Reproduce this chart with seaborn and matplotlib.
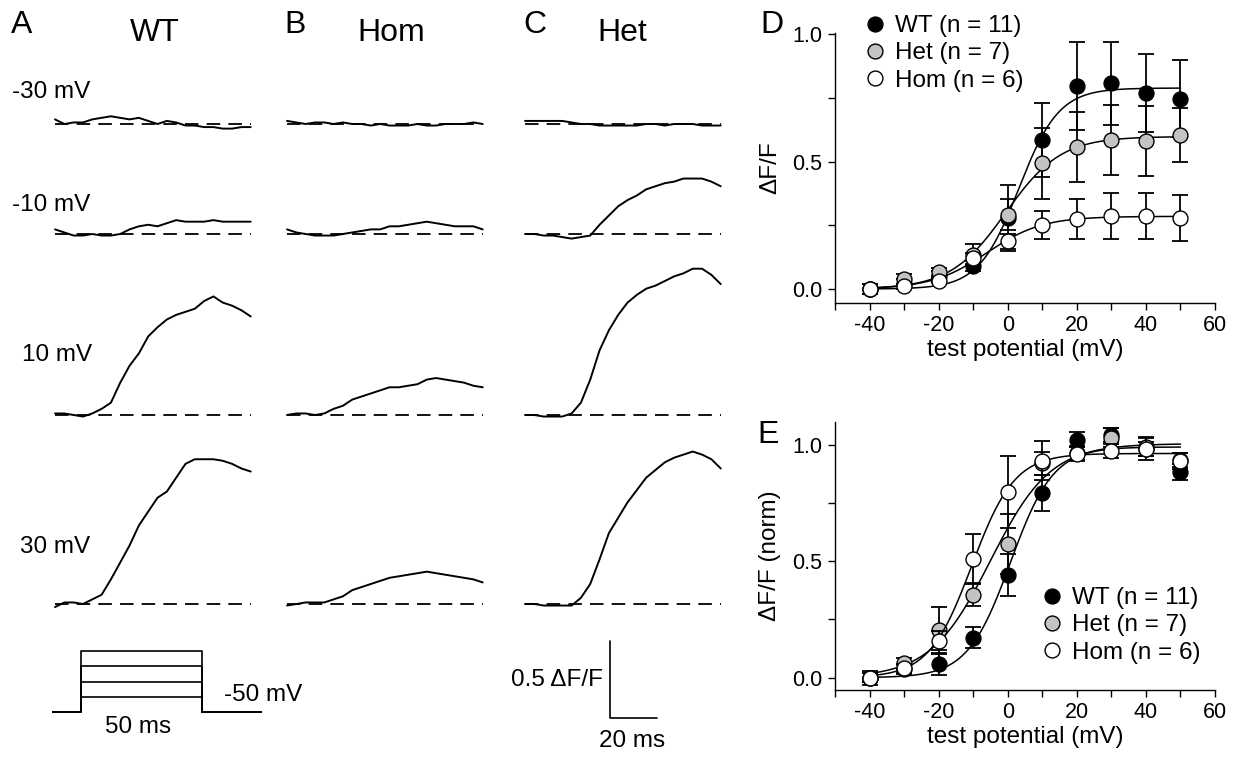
import matplotlib
matplotlib.use('Agg')
import matplotlib.pyplot as plt
from matplotlib.lines import Line2D
from matplotlib.ticker import MultipleLocator, FormatStrFormatter
import seaborn as sns
import numpy as np

# --- traces (dF/F), sampled every 4 ms from pulse-trace onset ---
t_ms = np.arange(0, 85, 4)

wt_m30 = [0.03, 0.0, 0.01, 0.01, 0.03, 0.04, 0.05, 0.04, 0.03, 0.04, 0.02, 0.0, 0.02, 0.01, -0.01, -0.01, -0.02, -0.02, -0.03, -0.03, -0.02, -0.02]
wt_m10 = [0.03, 0.01, -0.01, -0.01, 0.0, -0.01, -0.01, 0.0, 0.03, 0.05, 0.06, 0.05, 0.07, 0.09, 0.08, 0.08, 0.08, 0.09, 0.08, 0.08, 0.08, 0.08]
wt_p10 = [0.01, 0.01, 0.0, -0.01, 0.01, 0.04, 0.08, 0.21, 0.32, 0.40, 0.51, 0.57, 0.62, 0.65, 0.67, 0.69, 0.74, 0.77, 0.73, 0.71, 0.68, 0.64]
wt_p30 = [-0.02, 0.01, 0.01, 0.0, 0.03, 0.06, 0.16, 0.27, 0.38, 0.51, 0.60, 0.69, 0.73, 0.82, 0.91, 0.94, 0.94, 0.94, 0.93, 0.91, 0.88, 0.86]

hom_m30 = [0.02, 0.01, 0.0, 0.01, 0.01, 0.0, 0.01, 0.0, 0.0, -0.01, 0.0, -0.01, -0.01, -0.01, 0.0, -0.01, -0.01, 0.0, 0.0, 0.0, 0.01, 0.0]
hom_m10 = [0.03, 0.01, 0.0, -0.01, -0.01, -0.01, 0.0, 0.01, 0.02, 0.03, 0.03, 0.05, 0.05, 0.06, 0.07, 0.08, 0.07, 0.06, 0.05, 0.05, 0.05, 0.03]
hom_p10 = [0.0, 0.01, 0.01, 0.0, 0.01, 0.04, 0.06, 0.10, 0.12, 0.14, 0.16, 0.18, 0.18, 0.19, 0.20, 0.23, 0.24, 0.23, 0.22, 0.21, 0.19, 0.18]
hom_p30 = [-0.01, 0.0, 0.01, 0.01, 0.01, 0.03, 0.05, 0.09, 0.11, 0.13, 0.15, 0.17, 0.18, 0.19, 0.20, 0.21, 0.20, 0.19, 0.18, 0.17, 0.16, 0.14]

het_m30 = [0.02, 0.02, 0.02, 0.02, 0.02, 0.01, 0.0, 0.0, -0.01, -0.01, -0.01, -0.01, -0.01, 0.0, 0.0, -0.01, 0.0, 0.0, 0.0, -0.01, -0.01, -0.01]
het_m10 = [0.0, 0.0, -0.01, -0.01, -0.02, -0.03, -0.02, -0.01, 0.06, 0.12, 0.18, 0.22, 0.25, 0.29, 0.31, 0.33, 0.34, 0.36, 0.36, 0.36, 0.34, 0.31]
het_p10 = [0.0, 0.0, -0.01, -0.01, -0.01, 0.01, 0.08, 0.23, 0.42, 0.55, 0.65, 0.73, 0.78, 0.82, 0.84, 0.87, 0.90, 0.92, 0.95, 0.95, 0.91, 0.85]
het_p30 = [0.0, 0.0, -0.01, -0.01, -0.01, -0.01, 0.04, 0.13, 0.29, 0.46, 0.56, 0.66, 0.74, 0.82, 0.87, 0.92, 0.95, 0.97, 0.99, 0.97, 0.94, 0.88]

trace_titles = ['WT', 'Hom', 'Het']
trace_rows = ['-30 mV', '-10 mV', '10 mV', '30 mV']
traces = [[wt_m30, wt_m10, wt_p10, wt_p30],
          [hom_m30, hom_m10, hom_p10, hom_p30],
          [het_m30, het_m10, het_p10, het_p30]]

# --- voltage protocol ---
hold_mv = -50
step_mv = [-30, -10, 10, 30]
pre_ms, pulse_ms, post_ms = 12, 50, 25

# --- summary data (D: dF/F, E: normalised) ---
test_mv = [-40, -30, -20, -10, 0, 10, 20, 30, 40, 50]
groups = ['WT (n = 11)', 'Het (n = 7)', 'Hom (n = 6)']
colors = ['black', '#c3c3c3', 'white']

d_wt = [0.0, 0.02, 0.05, 0.089, 0.28, 0.585, 0.797, 0.807, 0.771, 0.747]
d_wt_err = [0.02, 0.02, 0.02, 0.02, 0.13, 0.144, 0.174, 0.164, 0.153, 0.152]
d_het = [0.0, 0.039, 0.066, 0.135, 0.292, 0.493, 0.557, 0.585, 0.581, 0.604]
d_het_err = [0.02, 0.02, 0.015, 0.04, 0.06, 0.14, 0.137, 0.137, 0.139, 0.106]
d_hom = [0.0, 0.01, 0.033, 0.12, 0.187, 0.25, 0.275, 0.286, 0.288, 0.279]
d_hom_err = [0.02, 0.01, 0.01, 0.02, 0.03, 0.055, 0.08, 0.09, 0.09, 0.09]

e_wt = [0.0, 0.035, 0.057, 0.171, 0.44, 0.793, 1.021, 1.04, 0.983, 0.883]
e_wt_err = [0.03, 0.02, 0.045, 0.045, 0.09, 0.077, 0.033, 0.03, 0.03, 0.033]
e_het = [0.0, 0.061, 0.204, 0.354, 0.573, 0.92, 0.965, 1.03, 0.99, 0.935]
e_het_err = [0.02, 0.025, 0.1, 0.046, 0.128, 0.05, 0.03, 0.04, 0.04, 0.03]
e_hom = [0.0, 0.04, 0.159, 0.511, 0.797, 0.93, 0.959, 0.971, 0.983, 0.929]
e_hom_err = [0.02, 0.02, 0.04, 0.107, 0.153, 0.084, 0.03, 0.03, 0.05, 0.035]

# layout (pixels of the 1233 x 758 canvas)
W, H = 1233, 758
PX_PER_MS = 2.33
PX_PER_DFF = 154
col_x_px = [55, 287, 525]
row_base_px = [124, 234, 415, 604]


def fx(x):
    return x / W


def fy(y):
    return 1 - y / H


def boltz_fit(v, y):
    # least squares Boltzmann fit, amplitude solved linearly on a (Vh, k) grid
    v = np.asarray(v, float)
    y = np.asarray(y, float)
    vh = np.arange(-30, 30.01, 0.2)[:, None, None]
    k = np.arange(2, 20.01, 0.1)[None, :, None]
    b = 1 / (1 + np.exp((vh - v) / k))
    a = (b * y).sum(-1) / (b ** 2).sum(-1)
    sse = ((a[..., None] * b - y) ** 2).sum(-1)
    i, j = np.unravel_index(sse.argmin(), sse.shape)
    return a[i, j], vh[i, 0, 0], k[0, j, 0]


sns.set_style('white')
plt.rcParams['font.family'] = ['Liberation Sans', 'DejaVu Sans']
plt.rcParams['axes.unicode_minus'] = False
plt.rcParams['text.color'] = 'black'
plt.rcParams['axes.labelcolor'] = 'black'
plt.rcParams['xtick.color'] = 'black'
plt.rcParams['ytick.color'] = 'black'

fig = plt.figure(figsize=(W / 100, H / 100), dpi=100)

# ---- A-C: fluorescence traces ----
ax_tr = fig.add_axes([0, 0, fx(780), 1])
ax_tr.set_xlim(0, 780 / PX_PER_MS)
ax_tr.set_ylim(-H / PX_PER_DFF, 0)
ax_tr.axis('off')

for c, col in enumerate(traces):
    x0 = col_x_px[c] / PX_PER_MS
    for r, tr in enumerate(col):
        y0 = -row_base_px[r] / PX_PER_DFF
        ax_tr.hlines(y0, x0, x0 + t_ms[-1], colors='black', lw=1.3,
                     linestyles=(0, (7.5, 4.5)))
        sns.lineplot(x=x0 + t_ms, y=y0 + np.array(tr), ax=ax_tr, color='black',
                     lw=1.4, estimator=None, sort=False)

# scale bar
sb_x = 610 / PX_PER_MS
sb_y = -718 / PX_PER_DFF
ax_tr.plot([sb_x, sb_x, sb_x + 20], [sb_y + 0.5, sb_y, sb_y], color='black', lw=1.2)
fig.text(fx(603), fy(680), '0.5 \u0394F/F', ha='right', va='center', fontsize=17.5)
fig.text(fx(632), fy(741), '20 ms', ha='center', va='center', fontsize=17.5)

# protocol
ax_p = fig.add_axes([fx(52), fy(715), fx(262) - fx(52), fy(645) - fy(715)])
ax_p.set_xlim(0, pre_ms + pulse_ms + post_ms)
ax_p.set_ylim(-53.9, 37.9)
ax_p.axis('off')
for v in step_mv:
    tt = [0, pre_ms, pre_ms, pre_ms + pulse_ms, pre_ms + pulse_ms, pre_ms + pulse_ms + post_ms]
    vv = [hold_mv, hold_mv, v, v, hold_mv, hold_mv]
    ax_p.plot(tt, vv, color='black', lw=1.2)
fig.text(fx(138), fy(727), '50 ms', ha='center', va='center', fontsize=17.5)
fig.text(fx(224), fy(695), '-50 mV', ha='left', va='center', fontsize=17.5)

# labels
for lab, x in zip(['A', 'B', 'C'], [22, 295, 535]):
    fig.text(fx(x), fy(25), lab, ha='center', va='center', fontsize=23)
for ttl, x in zip(trace_titles, [155, 391, 622]):
    fig.text(fx(x), fy(33), ttl, ha='center', va='center', fontsize=23)
for lab, x, y in zip(trace_rows, [12, 12, 22, 20], [92, 205, 355, 547]):
    fig.text(fx(x), fy(y), lab, ha='left', va='center', fontsize=17.5)
fig.text(fx(772), fy(25), 'D', ha='center', va='center', fontsize=23)
fig.text(fx(768), fy(435), 'E', ha='center', va='center', fontsize=23)

# ---- D and E: summary ----
ax_d = fig.add_axes([fx(835), fy(303), fx(1215) - fx(835), fy(33) - fy(303)])
ax_e = fig.add_axes([fx(835), fy(690), fx(1215) - fx(835), fy(422) - fy(690)])

panels = [
    (ax_d, [d_wt, d_het, d_hom], [d_wt_err, d_het_err, d_hom_err], (-0.055, 1.005), '\u0394F/F', 15),
    (ax_e, [e_wt, e_het, e_hom], [e_wt_err, e_het_err, e_hom_err], (-0.053, 1.097), '\u0394F/F (norm)', 587),
]
leg_x = [863, 1040]

for p, (ax, ys, errs, ylim, ylab, leg_top) in enumerate(panels):
    v_fit = np.linspace(-40, 50, 200)
    for g in range(3):
        a, vh, k = boltz_fit(test_mv, ys[g])
        sns.lineplot(x=v_fit, y=a / (1 + np.exp((vh - v_fit) / k)), ax=ax,
                     color='black', lw=1.1, zorder=2 + 3 * g)
        ax.errorbar(test_mv, ys[g], yerr=errs[g], fmt='none', ecolor='black',
                    elinewidth=1.3, capsize=6, capthick=1.3, zorder=3 + 3 * g)
        sns.scatterplot(x=test_mv, y=ys[g], ax=ax, color=colors[g], edgecolor='black',
                        linewidth=1, s=115, zorder=4 + 3 * g)
    ax.set_xlim(-50, 60)
    ax.set_ylim(*ylim)
    ax.xaxis.set_major_locator(MultipleLocator(20))
    ax.xaxis.set_minor_locator(MultipleLocator(10))
    ax.yaxis.set_major_locator(MultipleLocator(0.5))
    ax.yaxis.set_minor_locator(MultipleLocator(0.25))
    ax.yaxis.set_major_formatter(FormatStrFormatter('%.1f'))
    ax.set_xticks([-40, -20, 0, 20, 40, 60])
    ax.tick_params(which='both', direction='out', length=5, width=1, colors='black',
                   labelsize=15.5, pad=4, bottom=True, left=True)
    sns.despine(ax=ax)
    for s in ['left', 'bottom']:
        ax.spines[s].set_color('black')
        ax.spines[s].set_linewidth(1)
    ax.set_xlabel('test potential (mV)', fontsize=17.5, labelpad=2)
    ax.set_ylabel(ylab, fontsize=17.5, labelpad=8)
    ax.patch.set_alpha(0)

    handles = [Line2D([], [], marker='o', ls='none', markersize=10.7, markerfacecolor=c,
                      markeredgecolor='black', markeredgewidth=1) for c in colors]
    ax.legend(handles, groups, loc='upper left', frameon=False, fontsize=17.5,
              bbox_to_anchor=(fx(leg_x[p]), fy(leg_top)), bbox_transform=fig.transFigure,
              borderpad=0, borderaxespad=0, handlelength=1.0, handletextpad=0.3,
              labelspacing=0.22)

fig.savefig('out.png', dpi=100)
